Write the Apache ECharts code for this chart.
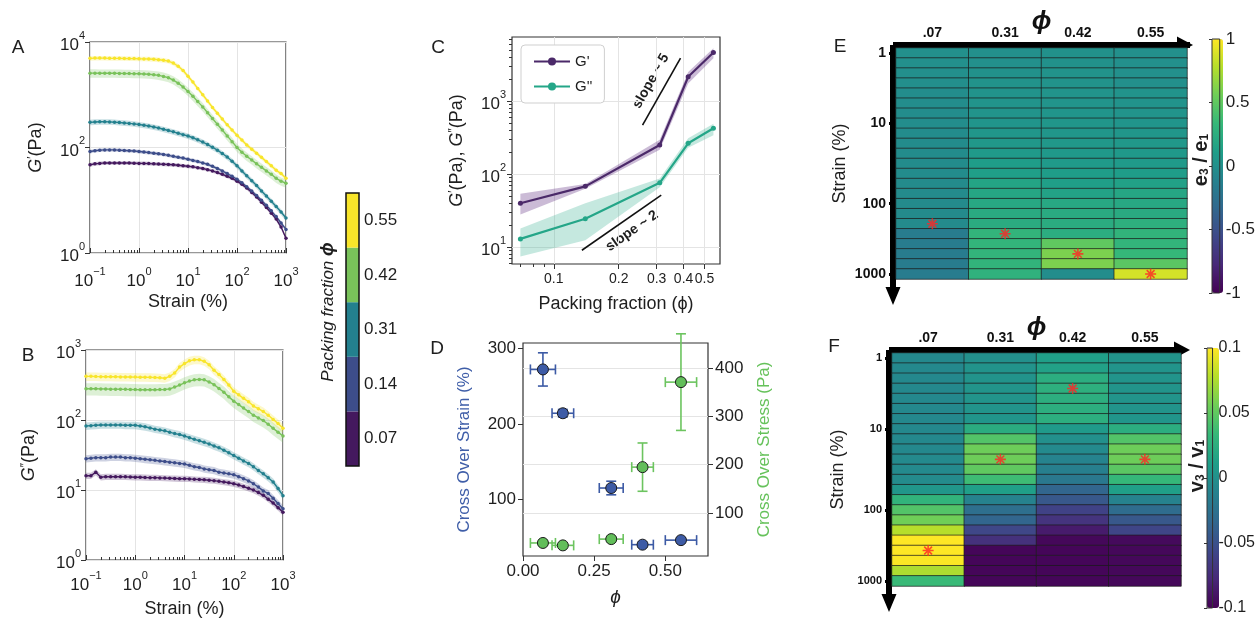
<!DOCTYPE html>
<html>
<head>
<meta charset="utf-8">
<script src="https://cdn.jsdelivr.net/npm/echarts@6/dist/echarts.min.js"></script>
<style>
  html, body { margin: 0; padding: 0; background: #fff; }
  #main { width: 1258px; height: 619px; }
</style>
</head>
<body>
<div id="main"></div>
<script>
const FONT = '"Liberation Sans", Arial, Helvetica, sans-serif'
const TXT = '#1e1e1e'

// ---- panels A / B : strain sweeps ----
const strain = [0.1,0.126,0.158,0.2,0.251,0.316,0.398,0.501,0.631,0.794,1,1.26,1.58,2,2.51,3.16,3.98,5.01,6.31,7.94,10,12.6,15.8,20,25.1,31.6,39.8,50.1,63.1,79.4,100,126,158,200,251,316,398,501,631,794,1000]
const strainMinorTicks = [0.2,0.3,0.4,0.5,0.6,0.7,0.8,0.9,2,3,4,5,6,7,8,9,20,30,40,50,60,70,80,90,200,300,400,500,600,700,800,900]

const phiLevels = ['0.07', '0.14', '0.31', '0.42', '0.55']
const phiColors = ['#44195e', '#3d4d8a', '#23808e', '#79c25a', '#f8e52a']

// G' (Pa)
const gp007 = [47,49,50,51,51,51,51,51,51,50.5,50,50,49.5,49,48.5,48,47.5,47,46,45,44,43,41.5,40,38,36,33.5,31,28.5,26,23,20,17,14,11.5,9.2,7.3,5.7,4.4,3.1,1.9]
const gp014 = [84,87,89,90,90,90,89,88,87,86,84,82,80,78,76,74,71,68,65.5,63,60,57,54,51,48,44,40,36,32,28.5,25,21.5,18,15,12.3,10,8,6.3,4.9,3.7,2.8]
const gp031 = [300,305,308,308,306,302,298,292,286,280,273,264,255,245,234,222,210,198,186,175,165,153,140,127,114,101,89,77,66,55,45,36,29,23.5,19,15,12,9.6,7.6,6,4.6]
const gp042 = [2570,2570,2560,2560,2550,2550,2540,2530,2520,2510,2500,2480,2450,2400,2330,2230,2100,1900,1660,1400,1150,933,741,589,457,355,275,214,166,129,100,81,68,58,49,42,36,31,26,23,21]
const gp055 = [4900,4950,4950,4950,4900,4900,4900,4880,4850,4850,4800,4780,4750,4700,4600,4500,4350,3980,3470,2880,2240,1740,1320,1000,760,575,447,347,269,214,170,138,112,93,78,65,54,45,37,32,26]
const gpSpread = [0.08, 0.08, 0.12, 0.18, 0.1]

// G'' (Pa)
const gpp007 = [16,16,18,15.2,15.5,15.5,15.5,15.5,15.4,15.3,15.2,15.2,15.1,15,15,14.9,14.8,14.7,14.6,14.5,14.5,14.4,14.2,14.1,14,13.8,13.6,13.3,13,12.7,12.3,11.8,11.2,10.6,10,9.2,8.4,7.4,6.5,5.6,4.8]
const gpp014 = [28,28.5,29,29,29,29.5,29.5,29.5,29,29,28.5,28,27.5,27,26.5,26,25.5,25,24.5,24,23.5,22.5,21.5,21,20,19.5,19,18,17.5,17,16.5,15.5,14.5,13.5,12.3,11,9.7,8.9,7.6,6.4,5.4]
const gpp031 = [82,83,84,85,85,85,85,85,84,84,84,82,80,77,74,72,70,67,64,62,59,56,53,50.5,48,45.5,42.5,40,37,34,31,28.5,26,24,21.5,19,17,15,13,10.5,8.3]
const gpp042 = [280,280,279,278,277,276,276,275,274,273,272,271,270,270,270,272,273,278,295,316,340,360,375,380,375,350,320,282,250,214,186,166,148,132,117,107,98,87,76,67,59]
const gpp055 = [420,420,418,416,415,415,414,413,412,411,410,409,408,407,405,402,395,420,470,570,640,700,725,725,690,617,513,447,380,316,257,229,204,182,158,145,132,117,102,89,76]
const gppSpread = [0.1, 0.12, 0.12, 0.2, 0.14]

// ---- panel C : moduli vs packing fraction ----
const phiC = [0.07, 0.14, 0.31, 0.42, 0.55]
const gpC = [40, 68, 250, 2140, 4600]
const gpCLo = [28, 63, 215, 1740, 3850]
const gpCHi = [54, 73, 295, 2500, 5250]
const gppC = [13, 24.5, 76, 264, 424]
const gppCLo = [7.5, 12.5, 66, 230, 340]
const gppCHi = [18, 40, 87, 310, 490]
const slope5Line = [[0.258, 469], [0.387, 3850]]
const slope2Line = [[0.135, 9.1], [0.315, 51.5]]
const phiTicksC = [0.1, 0.2, 0.3, 0.4, 0.5]
const phiMinorC = [0.07, 0.08, 0.09]
const modMinorC = [6,7,8,9,20,30,40,50,60,70,80,90,200,300,400,500,600,700,800,900,2000,3000,4000,5000,6000,7000]

// ---- panel D : cross over points ----
const phiD = [0.07, 0.14, 0.31, 0.42, 0.555]
const phiDErr = [0.044, 0.038, 0.042, 0.038, 0.055]
const crossStrain = [272, 214, 115, 40, 46]
const crossStrainErr = [22, 5, 9, 3, 3]
const crossStress = [38, 33, 46, 195, 371]
const crossStressErr = [5, 4, 5, 50, 100]

// ---- panels E / F : heat maps (rows = strain steps, top = 1 %) ----
const heatCols = ['.07', '0.31', '0.42', '0.55']
const heatRowLabels = ['1','','','','','','','10','','','','','','','','100','','','','','','','1000']
const e3e1 = [
  [0,0,-0.01,-0.01,-0.02,-0.02,-0.02,-0.02,-0.03,-0.03,-0.03,-0.03,-0.03,-0.04,-0.04,-0.04,-0.04,-0.04,-0.16,-0.16,-0.16,-0.16,-0.16],
  [0,0,0.01,0.02,0.02,0.03,0.03,0.04,0.05,0.06,0.08,0.1,0.12,0.16,0.18,0.2,0.22,0.23,0.31,0.31,0.31,0.3,0.28],
  [0.01,0.01,0.02,0.02,0.03,0.03,0.04,0.05,0.05,0.06,0.07,0.08,0.1,0.12,0.15,0.2,0.22,0.23,0.24,0.5,0.6,0.6,-0.02],
  [0,0,0,0,0.02,0.02,0.03,0.04,0.05,0.06,0.07,0.08,0.1,0.14,0.18,0.2,0.22,0.26,0.3,0.31,0.33,0.48,0.87]
]
const v3v1 = [
  [-0.006,-0.006,-0.006,-0.006,-0.006,-0.006,-0.006,-0.006,-0.006,-0.006,-0.005,-0.005,-0.004,0.005,0.03,0.045,0.056,0.078,0.1,0.1,0.099,0.075,0.035],
  [0,0.002,0.002,0.003,0.003,0.003,0.004,0.023,0.045,0.055,0.055,0.05,0.037,0.012,-0.011,-0.027,-0.035,-0.057,-0.072,-0.097,-0.097,-0.097,-0.097],
  [0.012,0.014,0.024,0.026,0.025,0.025,0.025,0.008,0,-0.005,-0.01,-0.014,-0.02,-0.035,-0.045,-0.06,-0.07,-0.085,-0.096,-0.097,-0.097,-0.097,-0.097],
  [0.003,0.003,0.003,0.003,0.003,0.003,0.004,0.024,0.045,0.055,0.055,0.048,0.033,0.012,-0.011,-0.03,-0.045,-0.058,-0.095,-0.096,-0.096,-0.096,-0.096]
]
const eStars = [[0, 17], [1, 18], [2, 20], [3, 22]]
const fStars = [[0, 19], [1, 10], [2, 3], [3, 10]]
const viridis = ['#440154','#482878','#3e4989','#31688e','#26828e','#1f9e89','#35b779','#6ece58','#b5de2b','#fde725']

const rowIds = heatRowLabels.map((_, i) => String(i))
const STAR = 'path://M-1,-7 L1,-7 L1,7 L-1,7 Z M-7,-1 L7,-1 L7,1 L-7,1 Z M-5.66,-4.24 L-4.24,-5.66 L5.66,4.24 L4.24,5.66 Z M-4.24,5.66 L-5.66,4.24 L4.24,-5.66 L5.66,-4.24 Z'
// arrow head with a short stem, tip up before the axis rotates it
const ARROW = 'path://M0,0 L7.5,18 L3,18 L3,26 L-3,26 L-3,18 L-7.5,18 Z'

const powRich = {
  b: { fontSize: 17, fontFamily: FONT, color: TXT, lineHeight: 24, verticalAlign: 'bottom' },
  e: { fontSize: 11, fontFamily: FONT, color: TXT, verticalAlign: 'top' }
}
function powLabel(v) {
  const e = Math.round(Math.log10(v))
  return '{b|10}{e|' + (e < 0 ? '\u2212' + (-e) : e) + '}'
}
const nameRich = {
  g: { fontSize: 18, fontFamily: FONT, color: TXT, fontStyle: 'italic' },
  p: { fontSize: 12, fontFamily: FONT, color: TXT, verticalAlign: 'top' },
  t: { fontSize: 18, fontFamily: FONT, color: TXT }
}
const gridLine = { show: true, lineStyle: { color: '#e4e4e4', width: 1 } }
const frame = { show: true, borderColor: '#333', borderWidth: 1.2, backgroundColor: 'transparent' }

function strainX(grid, margin) {
  return {
    type: 'log', gridIndex: grid, min: 0.1, max: 1000,
    axisLine: { show: false },
    axisTick: { inside: true, length: 5, lineStyle: { color: '#333' } },
    axisLabel: { formatter: powLabel, rich: powRich, margin: margin },
    splitLine: gridLine,
    name: 'Strain (%)', nameLocation: 'middle', nameGap: 40, nameMoveOverlap: false,
    nameTextStyle: { fontSize: 18, fontFamily: FONT, color: TXT }
  }
}
function minorAxis(grid, min, max, ticks, inside, pos) {
  return {
    type: 'log', gridIndex: grid, min: min, max: max, position: pos,
    axisLine: { show: false }, axisLabel: { show: false }, splitLine: { show: false },
    axisTick: { show: true, inside: inside, length: 3, customValues: ticks, lineStyle: { color: '#333' } }
  }
}
function bandSeries(xIdx, yIdx, xs, lo, hi, color, opacity) {
  return {
    type: 'custom', xAxisIndex: xIdx, yAxisIndex: yIdx, silent: true, z: 1,
    data: [[xs[0], lo[0]]],
    renderItem: function (params, api) {
      const upper = xs.map((x, i) => api.coord([x, hi[i]]))
      const lower = xs.map((x, i) => api.coord([x, lo[i]])).reverse()
      return { type: 'polygon', shape: { points: upper.concat(lower) }, style: { fill: color, opacity: opacity } }
    }
  }
}
function errorSeries(yIdx, xs, ys, xe, ye, color) {
  return {
    type: 'custom', xAxisIndex: 6, yAxisIndex: yIdx, z: 3, silent: true,
    data: xs.map((x, i) => [x, ys[i], xe[i], ye[i]]),
    renderItem: function (params, api) {
      const x = api.value(0), y = api.value(1), dx = api.value(2), dy = api.value(3)
      const l = api.coord([x - dx, y]), r = api.coord([x + dx, y])
      const t = api.coord([x, y + dy]), b = api.coord([x, y - dy])
      const c = 5
      const st = { stroke: color, lineWidth: 1.6, fill: null }
      const ln = (x1, y1, x2, y2) => ({ type: 'line', shape: { x1, y1, x2, y2 }, style: st })
      return {
        type: 'group', children: [
          ln(l[0], l[1], r[0], r[1]), ln(l[0], l[1] - c, l[0], l[1] + c), ln(r[0], r[1] - c, r[0], r[1] + c),
          ln(t[0], t[1], b[0], b[1]), ln(t[0] - c, t[1], t[0] + c, t[1]), ln(b[0] - c, b[1], b[0] + c, b[1])
        ]
      }
    }
  }
}

const series = []
function strainPanel(xIdx, yIdx, curves, spread) {
  curves.forEach((vals, k) => {
    const lo = vals.map(v => v * (1 - spread[k]))
    const hi = vals.map(v => v * (1 + spread[k]))
    series.push(bandSeries(xIdx, yIdx, strain, lo, hi, phiColors[k], 0.25))
    series.push({
      type: 'line', xAxisIndex: xIdx, yAxisIndex: yIdx, silent: true, z: 3,
      data: strain.map((x, i) => [x, vals[i]]),
      symbol: 'circle', symbolSize: 3.5,
      lineStyle: { color: phiColors[k], width: 1.4 }, itemStyle: { color: phiColors[k] }
    })
  })
}
strainPanel(0, 0, [gp007, gp014, gp031, gp042, gp055], gpSpread)
strainPanel(2, 1, [gpp007, gpp014, gpp031, gpp042, gpp055], gppSpread)

// C
series.push(bandSeries(4, 2, phiC, gpCLo, gpCHi, '#6a3d8a', 0.35))
series.push(bandSeries(4, 2, phiC, gppCLo, gppCHi, '#3fb396', 0.3))
series.push({
  name: "G'", type: 'line', xAxisIndex: 4, yAxisIndex: 2, z: 3,
  data: phiC.map((x, i) => [x, gpC[i]]), symbol: 'circle', symbolSize: 5,
  lineStyle: { color: '#4b2969', width: 2.2 }, itemStyle: { color: '#4b2969' }
})
series.push({
  name: "G''", type: 'line', xAxisIndex: 4, yAxisIndex: 2, z: 3,
  data: phiC.map((x, i) => [x, gppC[i]]), symbol: 'circle', symbolSize: 5,
  lineStyle: { color: '#24a688', width: 2.2 }, itemStyle: { color: '#24a688' }
})
;[slope5Line, slope2Line].forEach(seg => series.push({
  type: 'line', xAxisIndex: 4, yAxisIndex: 2, data: seg, symbol: 'none', silent: true, z: 4,
  lineStyle: { color: '#111', width: 1.6 }
}))

// D
series.push(errorSeries(4, phiD, crossStrain, phiDErr, crossStrainErr, '#3c5aa5'))
series.push(errorSeries(5, phiD, crossStress, phiDErr, crossStressErr, '#6cc45f'))
series.push({
  type: 'scatter', xAxisIndex: 6, yAxisIndex: 4, z: 4, symbolSize: 11,
  data: phiD.map((x, i) => [x, crossStrain[i]]),
  itemStyle: { color: '#3d5ba6', borderColor: '#1a1a1a', borderWidth: 1, opacity: 1 }
})
series.push({
  type: 'scatter', xAxisIndex: 6, yAxisIndex: 5, z: 4, symbolSize: 11,
  data: phiD.map((x, i) => [x, crossStress[i]]),
  itemStyle: { color: '#62be5a', borderColor: '#1a1a1a', borderWidth: 1, opacity: 1 }
})

// E / F
function heatData(cols) {
  const out = []
  cols.forEach((col, c) => col.forEach((v, r) => out.push([c, r, v])))
  return out
}
const heatE = series.length
series.push({
  type: 'heatmap', xAxisIndex: 7, yAxisIndex: 6, silent: true, data: heatData(e3e1),
  itemStyle: { borderColor: '#1b1b1b', borderWidth: 0.7 }
})
const heatF = series.length
series.push({
  type: 'heatmap', xAxisIndex: 8, yAxisIndex: 7, silent: true, data: heatData(v3v1),
  itemStyle: { borderColor: '#1b1b1b', borderWidth: 0.7 }
})
series.push({ type: 'scatter', xAxisIndex: 7, yAxisIndex: 6, data: eStars, symbol: STAR, symbolSize: 11, z: 5, silent: true, itemStyle: { color: '#ff2424' } })
series.push({ type: 'scatter', xAxisIndex: 8, yAxisIndex: 7, data: fStars, symbol: STAR, symbolSize: 11, z: 5, silent: true, itemStyle: { color: '#ff2424' } })

// phi colour bar
series.push({
  type: 'bar', xAxisIndex: 9, yAxisIndex: 8, barWidth: '100%', silent: true,
  data: phiLevels.map((p, k) => ({ value: 1, itemStyle: { color: phiColors[k] } }))
})

function heatX(grid, arrowOff, nameGap) {
  return {
    type: 'category', gridIndex: grid, data: heatCols, position: 'top', offset: 3,
    axisLine: { show: true, symbol: ['none', 'triangle'], symbolSize: [17, 16], symbolOffset: [0, arrowOff],
      lineStyle: { color: '#000', width: 6, cap: 'square' } },
    axisTick: { show: false },
    axisLabel: { fontWeight: 'bold', fontSize: 14, margin: 5, color: '#111', fontFamily: FONT },
    splitLine: { show: false },
    name: '\u03d5', nameLocation: 'middle', nameGap: nameGap, nameMoveOverlap: false,
    nameTextStyle: { fontSize: 26, fontWeight: 'bold', fontStyle: 'italic', color: '#111', fontFamily: FONT }
  }
}
function heatY(grid, labelSize, gap) {
  const show = i => heatRowLabels[i] !== ''
  return {
    type: 'category', gridIndex: grid, data: rowIds, inverse: true, offset: 3,
    axisLine: { show: true, symbol: [ARROW, 'none'], symbolSize: [15, 26], symbolOffset: [-13, 0],
      lineStyle: { color: '#000', width: 6, cap: 'square' } },
    axisTick: { show: true, alignWithLabel: true, interval: show, length: 4, lineStyle: { color: '#000', width: 3 } },
    axisLabel: { interval: show, formatter: (v, i) => heatRowLabels[i], fontWeight: 'bold', fontSize: labelSize,
      margin: 7, color: '#111', fontFamily: FONT },
    splitLine: { show: false },
    name: 'Strain (%)', nameLocation: 'middle', nameGap: gap,
    nameTextStyle: { fontSize: 18, color: TXT, fontFamily: FONT }
  }
}
function cbY(grid, min, max, step, size) {
  return {
    type: 'value', gridIndex: grid, position: 'right', min: min, max: max, interval: step,
    axisLine: { show: false }, splitLine: { show: false },
    axisTick: { show: true, inside: true, length: 3, lineStyle: { color: '#333' } },
    axisLabel: { fontSize: size, margin: 6, color: TXT, fontFamily: FONT }
  }
}
const hiddenX = grid => ({ type: 'value', gridIndex: grid, min: 0, max: 1, show: false })

function text(x, y, str, extra) {
  return {
    type: 'text', x: x, y: y, rotation: (extra && extra.rotation) || 0, silent: true,
    style: Object.assign({ text: str, fontSize: 19, fontFamily: FONT, fill: TXT,
      align: 'center', verticalAlign: 'middle', textAlign: 'center', textVerticalAlign: 'middle' }, extra && extra.style)
  }
}
const subRich = {
  b: { fontSize: 20, fontWeight: 'bold', fontFamily: FONT, fill: TXT, color: TXT },
  s: { fontSize: 12, fontWeight: 'bold', fontFamily: FONT, fill: TXT, color: TXT, verticalAlign: 'bottom', padding: [8, 0, 0, 0] }
}

const option = {
  animation: false,
  textStyle: { fontFamily: FONT },
  grid: [
    Object.assign({ left: 90, top: 42, width: 196, height: 211 }, frame),
    Object.assign({ left: 86, top: 350, width: 197, height: 212 }, frame),
    Object.assign({ left: 512, top: 37, width: 208, height: 227 }, frame),
    Object.assign({ left: 523, top: 343, width: 185, height: 213 }, frame),
    { left: 896, top: 48, width: 291, height: 231 },
    { left: 892, top: 353, width: 289, height: 233 },
    { left: 346, top: 193, width: 13, height: 273, show: true, borderColor: '#111', borderWidth: 1.5, z: 10 },
    { left: 1212, top: 39, width: 11, height: 254, show: true, borderColor: '#333', borderWidth: 1, z: 10 },
    { left: 1207, top: 348, width: 12, height: 260, show: true, borderColor: '#333', borderWidth: 1, z: 10 }
  ],
  xAxis: [
    strainX(0, 13),
    minorAxis(0, 0.1, 1000, strainMinorTicks, true, 'bottom'),
    strainX(1, 10),
    minorAxis(1, 0.1, 1000, strainMinorTicks, true, 'bottom'),
    {
      type: 'log', gridIndex: 2, min: 0.064, max: 0.59,
      axisLine: { show: false },
      axisTick: { length: 5, customValues: phiTicksC, lineStyle: { color: '#333' } },
      axisLabel: { customValues: phiTicksC, formatter: v => String(v), fontSize: 14, margin: 8, color: TXT },
      splitLine: gridLine,
      name: 'Packing fraction (\u03d5)', nameLocation: 'middle', nameGap: 31,
      nameTextStyle: { fontSize: 18, color: TXT, fontFamily: FONT }
    },
    minorAxis(2, 0.064, 0.59, phiMinorC, false, 'bottom'),
    {
      type: 'value', gridIndex: 3, min: 0, max: 0.65,
      axisLine: { show: false },
      axisTick: { length: 5, customValues: [0, 0.25, 0.5], lineStyle: { color: '#333' } },
      axisLabel: { customValues: [0, 0.25, 0.5], formatter: v => v.toFixed(2), fontSize: 17, margin: 7, color: TXT },
      splitLine: { show: false },
      name: '\u03d5', nameLocation: 'middle', nameGap: 32,
      nameTextStyle: { fontSize: 19, fontStyle: 'italic', color: TXT, fontFamily: FONT }
    },
    heatX(4, -2, 10),
    heatX(5, 1, 9),
    hiddenX(6),
    hiddenX(7),
    hiddenX(8)
  ],
  yAxis: [
    {
      type: 'log', gridIndex: 0, min: 1, max: 10000,
      axisLine: { show: false },
      axisTick: { length: 5, customValues: [1, 100, 10000], lineStyle: { color: '#333' } },
      axisLabel: { customValues: [1, 100, 10000], formatter: powLabel, rich: powRich, margin: 5 },
      splitLine: gridLine,
      name: '{g|G}{p|\u2032}{t|(Pa)}', nameLocation: 'middle', nameGap: 45,
      nameTextStyle: { rich: nameRich, fontSize: 18 }
    },
    {
      type: 'log', gridIndex: 1, min: 1, max: 1000,
      axisLine: { show: false },
      axisTick: { length: 5, lineStyle: { color: '#333' } },
      axisLabel: { formatter: powLabel, rich: powRich, margin: 5 },
      splitLine: gridLine,
      name: '{g|G}{p|\u2033}{t|(Pa)}', nameLocation: 'middle', nameGap: 48,
      nameTextStyle: { rich: nameRich, fontSize: 18 }
    },
    {
      type: 'log', gridIndex: 2, min: 5.9, max: 7500,
      axisLine: { show: false },
      axisTick: { length: 5, customValues: [10, 100, 1000], lineStyle: { color: '#333' } },
      axisLabel: { customValues: [10, 100, 1000], formatter: powLabel, rich: powRich, margin: 6 },
      splitLine: gridLine,
      name: '{g|G}{p|\u2032}{t|(Pa), }{g|G}{p|\u2033}{t|(Pa)}', nameLocation: 'middle', nameGap: 46,
      nameTextStyle: { rich: nameRich, fontSize: 18 }
    },
    minorAxis(2, 5.9, 7500, modMinorC, false, 'left'),
    {
      type: 'value', gridIndex: 3, min: 25, max: 307,
      axisLine: { show: false },
      axisTick: { length: 5, customValues: [100, 200, 300], lineStyle: { color: '#333' } },
      axisLabel: { customValues: [100, 200, 300], fontSize: 17, margin: 7, color: TXT },
      splitLine: { show: false },
      name: 'Cross Over Strain (%)', nameLocation: 'middle', nameGap: 50,
      nameTextStyle: { fontSize: 17, color: '#3f5ea8', fontFamily: FONT }
    },
    {
      type: 'value', gridIndex: 3, min: 11, max: 452, position: 'right',
      axisLine: { show: false },
      axisTick: { length: 5, customValues: [100, 200, 300, 400], lineStyle: { color: '#333' } },
      axisLabel: { customValues: [100, 200, 300, 400], fontSize: 17, margin: 7, color: TXT },
      splitLine: gridLine,
      name: 'Cross Over Stress (Pa)', nameLocation: 'middle', nameGap: 48,
      nameTextStyle: { fontSize: 17, color: '#66c25b', fontFamily: FONT }
    },
    heatY(4, 14, 44),
    heatY(5, 11, 42),
    {
      type: 'category', gridIndex: 6, data: phiLevels, position: 'right',
      axisLine: { show: false },
      axisTick: { show: true, alignWithLabel: true, length: 3, lineStyle: { color: '#111' } },
      axisLabel: { fontSize: 17, margin: 5, color: TXT }
    },
    cbY(7, -1, 1, 0.5, 17),
    cbY(8, -0.1, 0.1, 0.05, 16)
  ],
  legend: {
    data: ["G'", "G''"], left: 521, top: 45, orient: 'vertical',
    itemWidth: 36, itemHeight: 10, itemGap: 10, padding: [9, 12],
    borderColor: '#cfcfcf', borderWidth: 1, borderRadius: 4, backgroundColor: '#fff',
    textStyle: { fontSize: 15, color: TXT, fontFamily: FONT }
  },
  visualMap: [
    { type: 'continuous', seriesIndex: heatE, dimension: 2, min: -1, max: 1, calculable: false,
      inRange: { color: viridis }, left: 1212, top: 39, itemWidth: 11, itemHeight: 254, padding: 0, text: null },
    { type: 'continuous', seriesIndex: heatF, dimension: 2, min: -0.1, max: 0.1, calculable: false,
      inRange: { color: viridis }, left: 1207, top: 348, itemWidth: 12, itemHeight: 260, padding: 0, text: null }
  ],
  graphic: [
    text(18, 48, 'A'), text(28, 356, 'B'), text(438, 48, 'C'), text(437, 349, 'D'),
    text(840, 47, 'E'), text(834, 347, 'F'),
    text(328, 312, '{t|Packing fraction }{p|\u03d5}', { rotation: Math.PI / 2, style: { rich: {
      t: { fontSize: 17, fontStyle: 'italic', fontFamily: FONT, fill: TXT, color: TXT },
      p: { fontSize: 18, fontStyle: 'italic', fontWeight: 'bold', fontFamily: FONT, fill: TXT, color: TXT } } } }),
    text(651, 81, 'slope ~ 5', { rotation: 1.058, style: { fontSize: 14, fontWeight: 'bold' } }),
    text(632, 231, 'slope ~ 2', { rotation: 0.61, style: { fontSize: 14, fontWeight: 'bold' } }),
    text(1201, 160, '{b|e}{s|3}{b| / e}{s|1}', { rotation: Math.PI / 2, style: { rich: subRich } }),
    text(1197, 466, '{b|v}{s|3}{b| / v}{s|1}', { rotation: Math.PI / 2, style: { rich: subRich } })
  ],
  series: series
}

const chart = echarts.init(document.getElementById('main'), null, { renderer: 'canvas' })
chart.setOption(option)
</script>
</body>
</html>
